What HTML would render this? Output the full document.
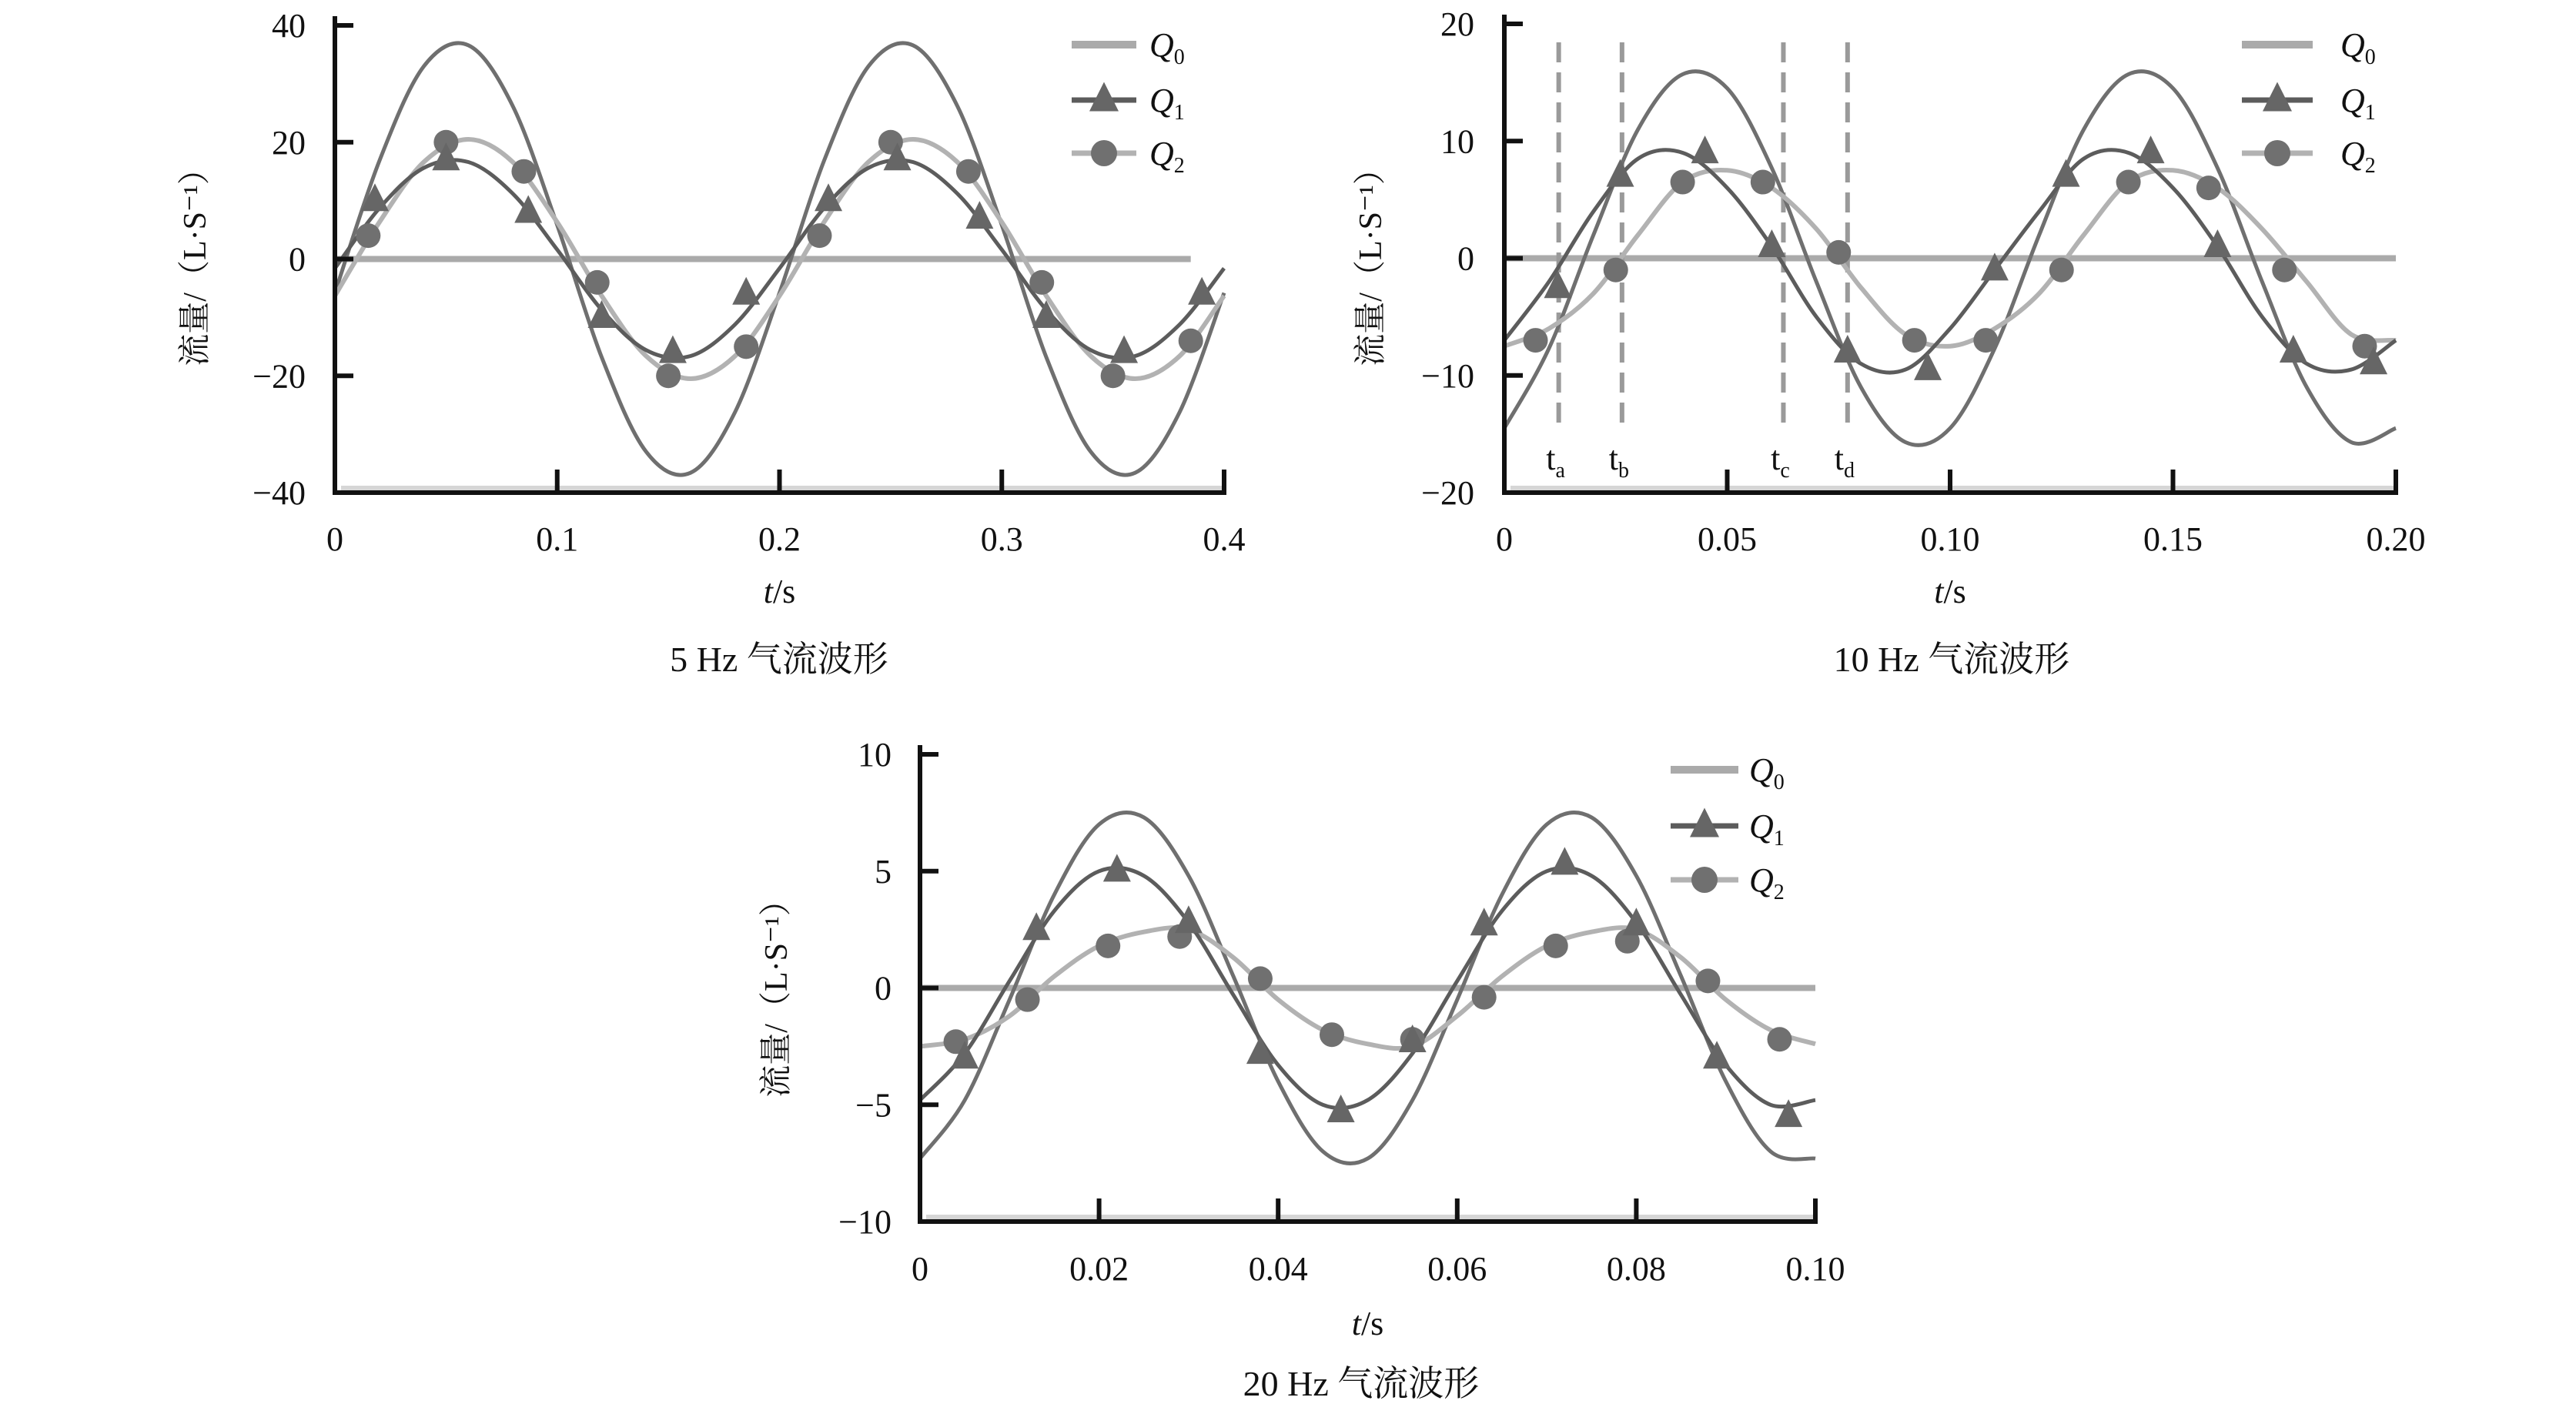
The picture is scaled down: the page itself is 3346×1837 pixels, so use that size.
<!DOCTYPE html>
<html><head><meta charset="utf-8"><title>气流波形</title>
<style>
html,body{margin:0;padding:0;background:#fff;}
svg{display:block;}
text{font-family:"Liberation Serif","Noto Serif CJK SC",serif;fill:#111;}
</style></head>
<body>
<svg id="fig" width="3346" height="1837" viewBox="0 0 3346 1837" xmlns="http://www.w3.org/2000/svg"></svg>
<script>
// ---- Chart 1: 5 Hz ----
const c1Times=[0,0.02,0.04,0.06,0.08,0.10,0.12,0.14,0.16,0.18,0.20,0.22,0.24,0.26,0.28,0.30,0.32,0.34,0.36,0.38,0.40];
const c1Q0=[-5.8,16.8,33.0,36.6,26.2,5.8,-16.8,-33.0,-36.6,-26.2,-5.8,16.8,33.0,36.6,26.2,5.8,-16.8,-33.0,-36.6,-26.2,-5.8];
const c1Q1=[-1.6,8.7,15.6,16.6,11.2,1.6,-8.7,-15.6,-16.6,-11.2,-1.6,8.7,15.6,16.6,11.2,1.6,-8.7,-15.6,-16.6,-11.2,-1.6];
const c1Q2=[-6.3,6.3,16.6,20.5,16.6,6.3,-6.3,-16.6,-20.5,-16.6,-6.3,6.3,16.6,20.5,16.6,6.3,-6.3,-16.6,-20.5,-16.6,-6.3];
const c1Q1MarkT=[0.018,0.05,0.087,0.12,0.152,0.185,0.222,0.253,0.29,0.32,0.355,0.39];
const c1Q1MarkV=[10,17,8,-10,-16,-6,10,17,7,-10,-16,-6];
const c1Q2MarkT=[0.015,0.05,0.085,0.118,0.15,0.185,0.218,0.25,0.285,0.318,0.35,0.385];
const c1Q2MarkV=[4,20,15,-4,-20,-15,4,20,15,-4,-20,-14];
const c1XTicks=["0","0.1","0.2","0.3","0.4"];
const c1XTickVals=[0,0.1,0.2,0.3,0.4];
const c1YTicks=["40","20","0","\u221220","\u221240"];
const c1YTickVals=[40,20,0,-20,-40];

// ---- Chart 2: 10 Hz ----
const c2Times=[0,0.01,0.02,0.03,0.04,0.05,0.06,0.07,0.08,0.09,0.10,0.11,0.12,0.13,0.14,0.15,0.16,0.17,0.18,0.19,0.20];
const c2Q0=[-14.5,-7.7,2.0,11.0,15.7,14.5,7.7,-2.0,-11.0,-15.7,-14.5,-7.7,2.0,11.0,15.7,14.5,7.7,-2.0,-11.0,-15.7,-14.5];
const c2Q1=[-7,-2,4,8.5,9,6,1,-5,-9,-9.5,-6,-1,4,8.5,9,6,1,-5,-9,-9.5,-7];
const c2Q2=[-7.5,-6,-3,2,6.5,7.5,6,2.5,-2.5,-6.5,-7.5,-6,-3,2,6.5,7.5,6,2.5,-2,-6.5,-7];
const c2Q1MarkT=[0.012,0.026,0.045,0.06,0.077,0.095,0.11,0.126,0.145,0.16,0.177,0.195];
const c2Q1MarkV=[-2.5,7,9,1,-8,-9.5,-1,7,9,1,-8,-9];
const c2Q2MarkT=[0.007,0.025,0.04,0.058,0.075,0.092,0.108,0.125,0.14,0.158,0.175,0.193];
const c2Q2MarkV=[-7,-1,6.5,6.5,0.5,-7,-7,-1,6.5,6,-1,-7.5];
const c2XTicks=["0","0.05","0.10","0.15","0.20"];
const c2XTickVals=[0,0.05,0.10,0.15,0.20];
const c2YTicks=["20","10","0","\u221210","\u221220"];
const c2YTickVals=[20,10,0,-10,-20];
const c2MarkerLabels=["a","b","c","d"];
const c2MarkerTimes=[0.0122,0.0264,0.0626,0.0770];

// ---- Chart 3: 20 Hz ----
const c3Times=[0,0.005,0.01,0.015,0.02,0.025,0.03,0.035,0.04,0.045,0.05,0.055,0.06,0.065,0.07,0.075,0.08,0.085,0.09,0.095,0.10];
const c3Q0=[-7.3,-4.8,-0.5,4.0,7.0,7.3,4.8,0.5,-4.0,-7.0,-7.3,-4.8,-0.5,4.0,7.0,7.3,4.8,0.5,-4.0,-7.0,-7.3];
const c3Q1=[-4.8,-2.8,0.3,3.3,5.0,4.8,2.8,-0.3,-3.3,-5.0,-4.8,-2.8,0.3,3.3,5.0,4.8,2.8,-0.3,-3.3,-5.0,-4.8];
const c3Q2=[-2.5,-2.2,-1.2,0.5,1.8,2.4,2.5,1.3,-0.5,-1.8,-2.4,-2.5,-1.2,0.5,1.8,2.4,2.5,1.3,-0.5,-1.8,-2.4];
const c3Q1MarkT=[0.005,0.013,0.022,0.03,0.038,0.047,0.055,0.063,0.072,0.08,0.089,0.097];
const c3Q1MarkV=[-3,2.5,5,2.8,-2.8,-5.3,-2.3,2.7,5.3,2.7,-3,-5.5];
const c3Q2MarkT=[0.004,0.012,0.021,0.029,0.038,0.046,0.055,0.063,0.071,0.079,0.088,0.096];
const c3Q2MarkV=[-2.3,-0.5,1.8,2.2,0.4,-2,-2.2,-0.4,1.8,2,0.3,-2.2];
const c3XTicks=["0","0.02","0.04","0.06","0.08","0.10"];
const c3XTickVals=[0,0.02,0.04,0.06,0.08,0.10];
const c3YTicks=["10","5","0","\u22125","\u221210"];
const c3YTickVals=[10,5,0,-5,-10];

const NS="http://www.w3.org/2000/svg";
const svg=document.getElementById('fig');
function mk(tag,attrs,parent){const e=document.createElementNS(NS,tag);for(const k in attrs)e.setAttribute(k,attrs[k]);(parent||svg).appendChild(e);return e;}

function splinePath(pts){
  let d="M"+pts[0][0].toFixed(1)+","+pts[0][1].toFixed(1);
  for(let i=0;i<pts.length-1;i++){
    const p0=pts[i-1]||pts[i],p1=pts[i],p2=pts[i+1],p3=pts[i+2]||pts[i+1];
    const c1x=p1[0]+(p2[0]-p0[0])/6,c1y=p1[1]+(p2[1]-p0[1])/6;
    const c2x=p2[0]-(p3[0]-p1[0])/6,c2y=p2[1]-(p3[1]-p1[1])/6;
    d+=" C"+c1x.toFixed(1)+","+c1y.toFixed(1)+" "+c2x.toFixed(1)+","+c2y.toFixed(1)+" "+p2[0].toFixed(1)+","+p2[1].toFixed(1);
  }
  return d;
}
function tri(g,x,y,s,fill){
  const p=mk('polygon',{points:`${x},${y-s*0.62} ${x-s*0.5},${y+s*0.38} ${x+s*0.5},${y+s*0.38}`,fill:fill},g);
  return p;
}

function drawChart(cfg){
  const g=mk('g',{});
  
  
  const X=t=>cfg.x0+(t-cfg.tmin)/(cfg.tmax-cfg.tmin)*(cfg.x1-cfg.x0);
  const Y=v=>cfg.yTop+(cfg.vmax-v)/(cfg.vmax-cfg.vmin)*(cfg.yBot-cfg.yTop);

  // light inner frame lines
  const fb=mk('line',{x1:cfg.x0+8,y1:cfg.yBot-6,x2:cfg.x1,y2:cfg.yBot-6,stroke:'#d6d6d6','stroke-width':6},g);
  
  

  // zero line
  const zl=mk('line',{x1:cfg.x0,y1:Y(0),x2:X(cfg.zeroEnd),y2:Y(0),stroke:'#aaaaaa','stroke-width':8},g);
  
  

  // dashed markers
  if(cfg.dashT){
    cfg.dashT.forEach((t,i)=>{
      const dl=mk('line',{x1:X(t),y1:cfg.dashTop,x2:X(t),y2:cfg.dashBot,stroke:'#9a9a9a','stroke-width':6,'stroke-dasharray':'26 13'},g);
      
      
      const tl=mk('text',{x:X(t)-4,y:cfg.dashLabelY,'font-size':44,'text-anchor':'middle'},g);
      
      
      tl.textContent='t';
      const sub=mk('tspan',{'font-size':28,dy:10},tl);
      sub.textContent=cfg.dashL[i];
    });
  }

  // series lines
  const series=[[cfg.q0,'#6f6f6f',5,'series-q0-curve'],[cfg.q2,'#b2b2b2',6,'series-q2-curve'],[cfg.q1,'#5c5c5c',5,'series-q1-curve']];
  series.forEach(s=>{
    const pts=cfg.times.map((t,i)=>[X(t),Y(s[0][i])]);
    const p=mk('path',{d:splinePath(pts),fill:'none',stroke:s[1],'stroke-width':s[2],'stroke-linejoin':'round'},g);
    
    
  });
  // markers
  cfg.q2mt.forEach((t,i)=>{
    const c=mk('circle',{cx:X(t),cy:Y(cfg.q2mv[i]),r:16,fill:'#707070'},g);
    
    
  });
  cfg.q1mt.forEach((t,i)=>{
    const p=tri(g,X(t),Y(cfg.q1mv[i]),36,'#666666');
    
    
  });

  // axes
  const ya=mk('line',{x1:cfg.x0,y1:cfg.yTop-12,x2:cfg.x0,y2:cfg.yBot+3,stroke:'#111','stroke-width':6},g);
  
  
  const xa=mk('line',{x1:cfg.x0,y1:cfg.yBot,x2:cfg.x1+3,y2:cfg.yBot,stroke:'#111','stroke-width':6},g);
  
  

  cfg.yTickVals.forEach((v,i)=>{
    if(i<cfg.yTickVals.length-1){
      const tk=mk('line',{x1:cfg.x0,y1:Y(v),x2:cfg.x0+24,y2:Y(v),stroke:'#111','stroke-width':6},g);
      
      
    }
    const tx=mk('text',{x:cfg.yLabRight,y:Y(v)+15,'font-size':44,'text-anchor':'end'},g);
    
    
    tx.textContent=cfg.yTicks[i];
  });
  cfg.xTickVals.forEach((v,i)=>{
    if(i>0){
      const tk=mk('line',{x1:X(v),y1:cfg.yBot,x2:X(v),y2:cfg.yBot-30,stroke:'#111','stroke-width':6},g);
      
      
    }
    const tx=mk('text',{x:X(v),y:cfg.xLabY+15,'font-size':44,'text-anchor':'middle'},g);
    
    
    tx.textContent=cfg.xTicks[i];
  });

  // axis titles
  const xt=mk('text',{x:(cfg.x0+cfg.x1)/2,y:cfg.xTitleY+15,'font-size':44,'text-anchor':'middle'},g);
  
  
  const ti=mk('tspan',{'font-style':'italic'},xt);ti.textContent='t';
  const ts=mk('tspan',{},xt);ts.textContent='/s';
  const yt=mk('text',{x:0,y:0,'font-size':42,'text-anchor':'middle',transform:`translate(${cfg.yTitleX+14},${cfg.yTitleY}) rotate(-90)`},g);
  
  
  yt.textContent='流量/（L·S\u207B\u00B9）';
  const ct=mk('text',{x:cfg.titleX,y:cfg.titleY+16,'font-size':46,'text-anchor':'middle'},g);
  
  
  ct.textContent=cfg.title;

  // legend
  const lg=mk('g',{},g);
  
  
  const items=[['0','#aaaaaa',null],['1','#5c5c5c','tri'],['2','#b2b2b2','circ']];
  items.forEach((it,i)=>{
    const y=cfg.legY[i];
    const e=mk('g',{},lg);
    
    
    mk('line',{x1:cfg.legX0,y1:y,x2:cfg.legX1,y2:y,stroke:it[1],'stroke-width':it[2]?7:10},e);
    const mx=(cfg.legX0+cfg.legX1)/2;
    if(it[2]==='tri')tri(e,mx,y,38,'#666666');
    if(it[2]==='circ')mk('circle',{cx:mx,cy:y,r:17,fill:'#707070'},e);
    const t=mk('text',{x:cfg.legTextX,y:y+15,'font-size':44},e);
    const q=mk('tspan',{'font-style':'italic'},t);q.textContent='Q';
    const s=mk('tspan',{'font-size':28,dy:10},t);s.textContent=it[0];
  });
}

drawChart({name:'chart-5hz',x0:435,x1:1590,yTop:33,yBot:640,tmin:0,tmax:0.4,vmin:-40,vmax:40,zeroEnd:0.385,
  times:c1Times,q0:c1Q0,q1:c1Q1,q2:c1Q2,q1mt:c1Q1MarkT,q1mv:c1Q1MarkV,q2mt:c1Q2MarkT,q2mv:c1Q2MarkV,
  xTicks:c1XTicks,xTickVals:c1XTickVals,yTicks:c1YTicks,yTickVals:c1YTickVals,
  yLabRight:397,xLabY:700,xTitleY:768,yTitleX:253,yTitleY:337,titleX:1012,titleY:856,title:'5 Hz 气流波形',
  legX0:1392,legX1:1476,legTextX:1493,legY:[58,130,199]});

drawChart({name:'chart-10hz',x0:1954,x1:3112,yTop:31,yBot:640,tmin:0,tmax:0.2,vmin:-20,vmax:20,zeroEnd:0.2,
  times:c2Times,q0:c2Q0,q1:c2Q1,q2:c2Q2,q1mt:c2Q1MarkT,q1mv:c2Q1MarkV,q2mt:c2Q2MarkT,q2mv:c2Q2MarkV,
  xTicks:c2XTicks,xTickVals:c2XTickVals,yTicks:c2YTicks,yTickVals:c2YTickVals,
  dashT:c2MarkerTimes,dashL:c2MarkerLabels,dashTop:55,dashBot:554,dashLabelY:610,
  yLabRight:1915,xLabY:700,xTitleY:768,yTitleX:1780,yTitleY:337,titleX:2535,titleY:856,title:'10 Hz 气流波形',
  legX0:2912,legX1:3004,legTextX:3040,legY:[58,130,199]});

drawChart({name:'chart-20hz',x0:1195,x1:2358,yTop:980,yBot:1587,tmin:0,tmax:0.1,vmin:-10,vmax:10,zeroEnd:0.1,
  times:c3Times,q0:c3Q0,q1:c3Q1,q2:c3Q2,q1mt:c3Q1MarkT,q1mv:c3Q1MarkV,q2mt:c3Q2MarkT,q2mv:c3Q2MarkV,
  xTicks:c3XTicks,xTickVals:c3XTickVals,yTicks:c3YTicks,yTickVals:c3YTickVals,
  yLabRight:1158,xLabY:1648,xTitleY:1719,yTitleX:1008,yTitleY:1287,titleX:1768,titleY:1797,title:'20 Hz 气流波形',
  legX0:2170,legX1:2258,legTextX:2272,legY:[1000,1073,1143]});
</script>
</body></html>
